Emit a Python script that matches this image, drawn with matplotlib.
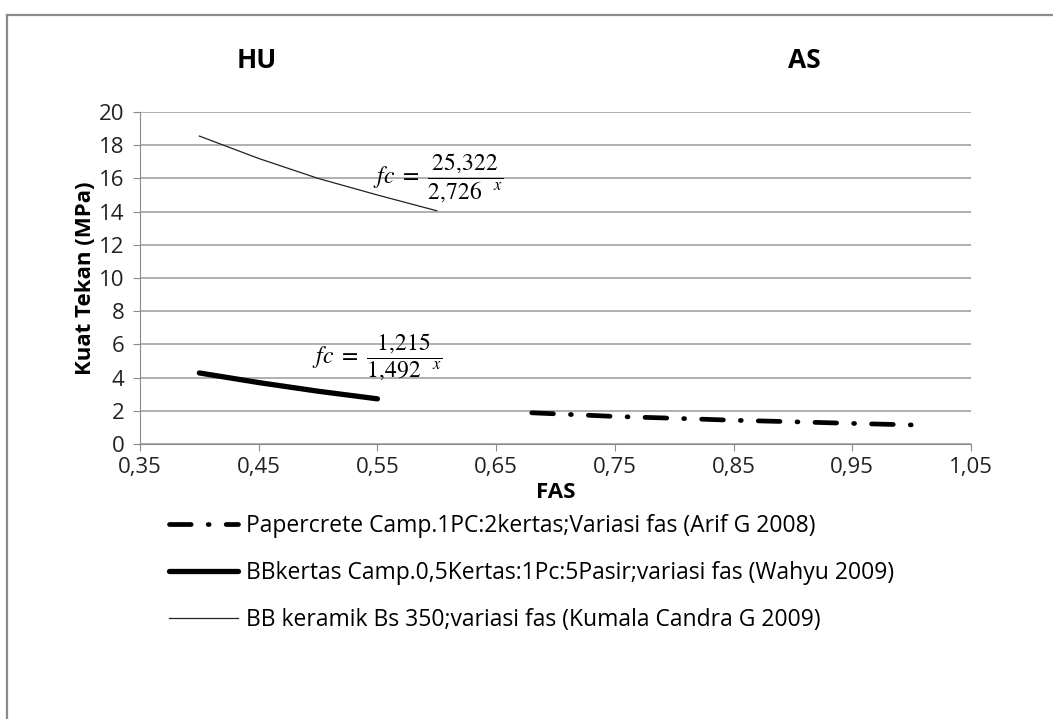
import matplotlib.pyplot as plt
from matplotlib.lines import Line2D
from matplotlib.ticker import FuncFormatter

plt.rcParams['font.family'] = ['Open Sans', 'DejaVu Sans']
plt.rcParams['mathtext.fontset'] = 'stix'

# data
fas_paper = [0.68, 0.75, 0.80, 0.85, 0.90, 0.95, 1.01]
fc_paper = [1.88, 1.66, 1.55, 1.43, 1.34, 1.24, 1.13]

fas_bbkertas = [0.40, 0.45, 0.50, 0.55]
fc_bbkertas = [4.28, 3.70, 3.18, 2.72]

fas_keramik = [0.40, 0.45, 0.50, 0.55, 0.60]
fc_keramik = [18.55, 17.2, 16.0, 15.0, 14.05]

labels = ['Papercrete Camp.1PC:2kertas;Variasi fas (Arif G 2008)',
          'BBkertas Camp.0,5Kertas:1Pc:5Pasir;variasi fas (Wahyu 2009)',
          'BB keramik Bs 350;variasi fas (Kumala Candra G 2009)']

xticks = [0.35, 0.45, 0.55, 0.65, 0.75, 0.85, 0.95, 1.05]
yticks = list(range(0, 21, 2))

fig = plt.figure(figsize=(10.53, 7.19), dpi=100)
ax = fig.add_axes([140/1053, 1 - 444/719, 831/1053, 332/719])

l1, = ax.plot(fas_paper, fc_paper, color='black', lw=3.4,
              dashes=(4.6, 3.6, 0.2, 3.6), solid_capstyle='round', dash_capstyle='round')
l2, = ax.plot(fas_bbkertas, fc_bbkertas, color='black', lw=3.8, solid_capstyle='round')
l3, = ax.plot(fas_keramik, fc_keramik, color='#222222', lw=0.9)

ax.set_xlim(0.35, 1.05)
ax.set_ylim(0, 20)
ax.set_xticks(xticks)
ax.set_yticks(yticks)
comma = FuncFormatter(lambda v, p: ('%.2f' % v).replace('.', ','))
ax.xaxis.set_major_formatter(comma)
ax.grid(axis='y', color='#9a9a9a', lw=1.1)
ax.set_axisbelow(True)
for s in ['top', 'right']:
    ax.spines[s].set_visible(False)
for s in ['left', 'bottom']:
    ax.spines[s].set_color('#8a8a8a')
ax.tick_params(colors='#8a8a8a', labelcolor='#222222', labelsize=16, length=5)
ax.tick_params(axis='x', pad=4)
ax.tick_params(axis='y', pad=6)

ax.set_xlabel('FAS', fontsize=16, fontweight='bold', labelpad=3)
ax.set_ylabel('Kuat Tekan (MPa)', fontsize=16, fontweight='bold', labelpad=2)

# equation labels
ax.text(0.546, 16.0, r'$fc\ =\ \dfrac{25{,}322}{2{,}726^{\quad x}}$', fontsize=17,
        va='center', ha='left')
ax.text(0.495, 5.24, r'$fc\ =\ \dfrac{1{,}215}{1{,}492^{\quad x}}$', fontsize=17,
        va='center', ha='left')

# title (partly hidden in original)
fig.text(237/1053, 1 - 60/719, 'HU', fontsize=19, fontweight='bold', va='center')
fig.text(788/1053, 1 - 60/719, 'AS', fontsize=19, fontweight='bold', va='center')

ax.legend([l1, l2, l3], labels, loc='upper left', frameon=False,
          bbox_to_anchor=(160/1053, 1 - 505/719), bbox_transform=fig.transFigure,
          fontsize=16.5, handlelength=3.0, handletextpad=0.35, labelspacing=1.0,
          borderaxespad=0)

# outer frame
fig.add_artist(Line2D([7/1053, 7/1053], [0, 1 - 15/719], color='#8c8c8c', lw=1.6,
                      transform=fig.transFigure))
fig.add_artist(Line2D([7/1053, 1], [1 - 15/719, 1 - 15/719], color='#8c8c8c', lw=1.6,
                      transform=fig.transFigure))

fig.savefig('out.png', dpi=100)
